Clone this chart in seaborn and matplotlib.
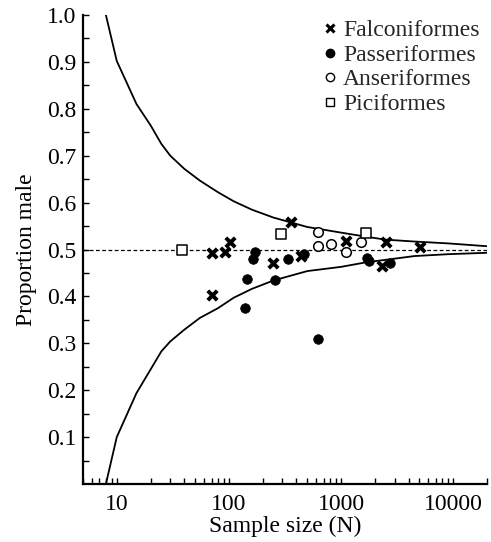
import numpy as np
import pandas as pd
import matplotlib
matplotlib.use("Agg")
import matplotlib.pyplot as plt
from matplotlib.lines import Line2D
from matplotlib.ticker import FixedLocator, NullFormatter, LogLocator
import seaborn as sns

# ---- data ----
falc_n = [70, 92, 102, 71, 249, 361, 437, 1100, 2500, 2300, 5080]
falc_p = [0.493, 0.495, 0.516, 0.402, 0.472, 0.558, 0.487, 0.518, 0.516, 0.464, 0.506]

pass_n = [171, 165, 146, 258, 139, 336, 468, 628, 1700, 1780, 2735]
pass_p = [0.495, 0.479, 0.437, 0.436, 0.376, 0.480, 0.491, 0.310, 0.482, 0.475, 0.472]

anse_n = [628, 628, 821, 1100, 1500]
anse_p = [0.537, 0.508, 0.511, 0.494, 0.516]

pici_n = [38, 290, 1663]
pici_p = [0.500, 0.532, 0.536]

curve_n = [8, 10, 15, 20, 25, 30, 40, 55, 80, 110, 160, 250, 500, 1000, 1700, 2500, 4500, 9000, 20000]
upper = [1.0, 0.902, 0.81, 0.765, 0.725, 0.70, 0.672, 0.647, 0.622, 0.603, 0.585, 0.568,
         0.548, 0.536, 0.527, 0.521, 0.517, 0.513, 0.507]
lower = [0.0, 0.10, 0.194, 0.244, 0.283, 0.304, 0.329, 0.354, 0.375, 0.397, 0.416, 0.434,
         0.454, 0.463, 0.473, 0.478, 0.486, 0.490, 0.493]

groups = ["Falconiformes", "Passeriformes", "Anseriformes", "Piciformes"]

sns.set_theme(style="ticks")
plt.rcParams["font.family"] = ["Liberation Serif", "DejaVu Serif"]

FS = 17
W, H = 491, 542
fig = plt.figure(figsize=(W / 100, H / 100), dpi=100)
ax = fig.add_axes([83 / W, 1 - 484 / H, 404 / W, 469 / H])

# reference line
ax.axhline(0.5, color="black", lw=0.9, ls=(0, (3, 2)), zorder=1)

# funnel curves
curves = pd.DataFrame({"n": curve_n, "upper": upper, "lower": lower})
sns.lineplot(data=curves, x="n", y="upper", color="black", lw=1.3, ax=ax,
             estimator=None, sort=False, zorder=2)
sns.lineplot(data=curves, x="n", y="lower", color="black", lw=1.3, ax=ax,
             estimator=None, sort=False, zorder=2)

pts = pd.concat([
    pd.DataFrame({"n": falc_n, "p": falc_p, "order": groups[0]}),
    pd.DataFrame({"n": pass_n, "p": pass_p, "order": groups[1]}),
    pd.DataFrame({"n": anse_n, "p": anse_p, "order": groups[2]}),
    pd.DataFrame({"n": pici_n, "p": pici_p, "order": groups[3]}),
])

sns.scatterplot(data=pts[pts.order == groups[0]], x="n", y="p", marker="x",
                s=46, color="black", linewidth=2.8, ax=ax, zorder=3, legend=False)
sns.scatterplot(data=pts[pts.order == groups[1]], x="n", y="p", marker="o",
                s=48, color="black", edgecolor="black", linewidth=0.5, ax=ax,
                zorder=3, legend=False)
sns.scatterplot(data=pts[pts.order == groups[2]], x="n", y="p", marker="o",
                s=48, facecolor="white", edgecolor="black", linewidth=1.1, ax=ax,
                zorder=3, legend=False)
sns.scatterplot(data=pts[pts.order == groups[3]], x="n", y="p", marker="s",
                s=44, facecolor="white", edgecolor="black", linewidth=1.1, ax=ax,
                zorder=3, legend=False)

ax.set_xscale("log")
ax.set_xlim(5, 20000)
ax.set_ylim(0, 1.0)

ax.set_xticks([10, 100, 1000, 10000])
ax.set_xticklabels(["10", "100", "1000", "10000"])
ax.xaxis.set_minor_locator(LogLocator(base=10, subs=np.arange(2, 10)))
ax.xaxis.set_minor_formatter(NullFormatter())

yt = [0.1, 0.2, 0.3, 0.4, 0.5, 0.6, 0.7, 0.8, 0.9, 1.0]
ax.set_yticks(yt)
ax.set_yticklabels([f"{v:.1f}" for v in yt])
ax.yaxis.set_minor_locator(FixedLocator(np.arange(0.05, 1.0, 0.1)))

ax.tick_params(axis="both", which="both", direction="in", length=4, width=1,
               color="black", labelsize=FS, labelcolor="black")
ax.tick_params(axis="x", which="major", pad=7)
ax.tick_params(axis="y", which="major", pad=5)

for side in ["top", "right"]:
    ax.spines[side].set_visible(False)
for side in ["left", "bottom"]:
    ax.spines[side].set_linewidth(1.6)
    ax.spines[side].set_color("black")

ax.set_xlabel("Sample size (N)", fontsize=FS, color="black", labelpad=1)
ax.set_ylabel("Proportion male", fontsize=FS, color="black", labelpad=7)

handles = [
    Line2D([], [], marker="x", ls="none", color="black", markersize=5.5, markeredgewidth=2.2),
    Line2D([], [], marker="o", ls="none", color="black", markersize=6),
    Line2D([], [], marker="o", ls="none", markerfacecolor="white", markeredgecolor="black",
           markersize=6, markeredgewidth=1.0),
    Line2D([], [], marker="s", ls="none", markerfacecolor="white", markeredgecolor="black",
           markersize=5.5, markeredgewidth=1.0),
]
ax.legend(handles, groups, loc="upper right", bbox_to_anchor=(0.982, 0.99),
          frameon=False, fontsize=FS, handlelength=0.6, handletextpad=0.25,
          labelspacing=0.13, borderaxespad=0.0, borderpad=0.0)

fig.savefig("out.png", dpi=100)
